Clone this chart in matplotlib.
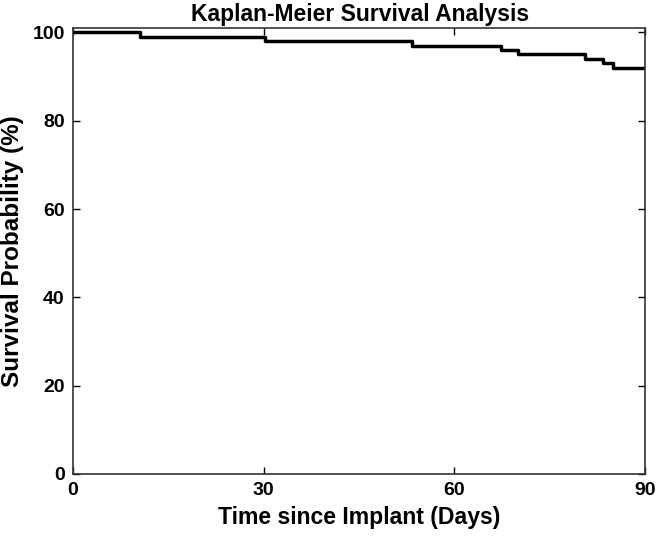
import matplotlib
matplotlib.use("Agg")
import matplotlib.pyplot as plt

plt.rcParams['font.family'] = ['Liberation Sans', 'DejaVu Sans']

times = [0, 10.5, 30.2, 53.3, 67.4, 70.0, 80.5, 83.4, 85.0, 90]
survival = [100, 99, 98, 97, 96, 95, 94, 93, 92, 92]
xticks = [0, 30, 60, 90]
yticks = [0, 20, 40, 60, 80, 100]

fig = plt.figure(figsize=(6.6, 5.43), dpi=100)
ax = fig.add_axes([73/660, 1-474/543, (645-73)/660, (474-28)/543])
ax.step(times, survival, where='post', color='black', linewidth=2.5)
ax.set_xlim(0, 90)
ax.set_ylim(0, 101)
ax.set_xticks(xticks)
ax.set_yticks(yticks)
ax.tick_params(direction='in', top=True, right=True, length=5, width=1,
               labelsize=14, pad=6)
for lab in ax.get_xticklabels() + ax.get_yticklabels():
    lab.set_fontweight('bold')
for s in ax.spines.values():
    s.set_linewidth(1.2)
    s.set_color('#333333')
ax.set_xlabel('Time since Implant (Days)', fontsize=16.6, fontweight='bold', labelpad=5)
ax.set_ylabel('Survival Probability (%)', fontsize=17.5, fontweight='bold', labelpad=6)
fig.text(360/660, 1-14/543, 'Kaplan-Meier Survival Analysis', fontsize=16.5,
         fontweight='bold', ha='center', va='center')
fig.savefig('out.png', dpi=100)
